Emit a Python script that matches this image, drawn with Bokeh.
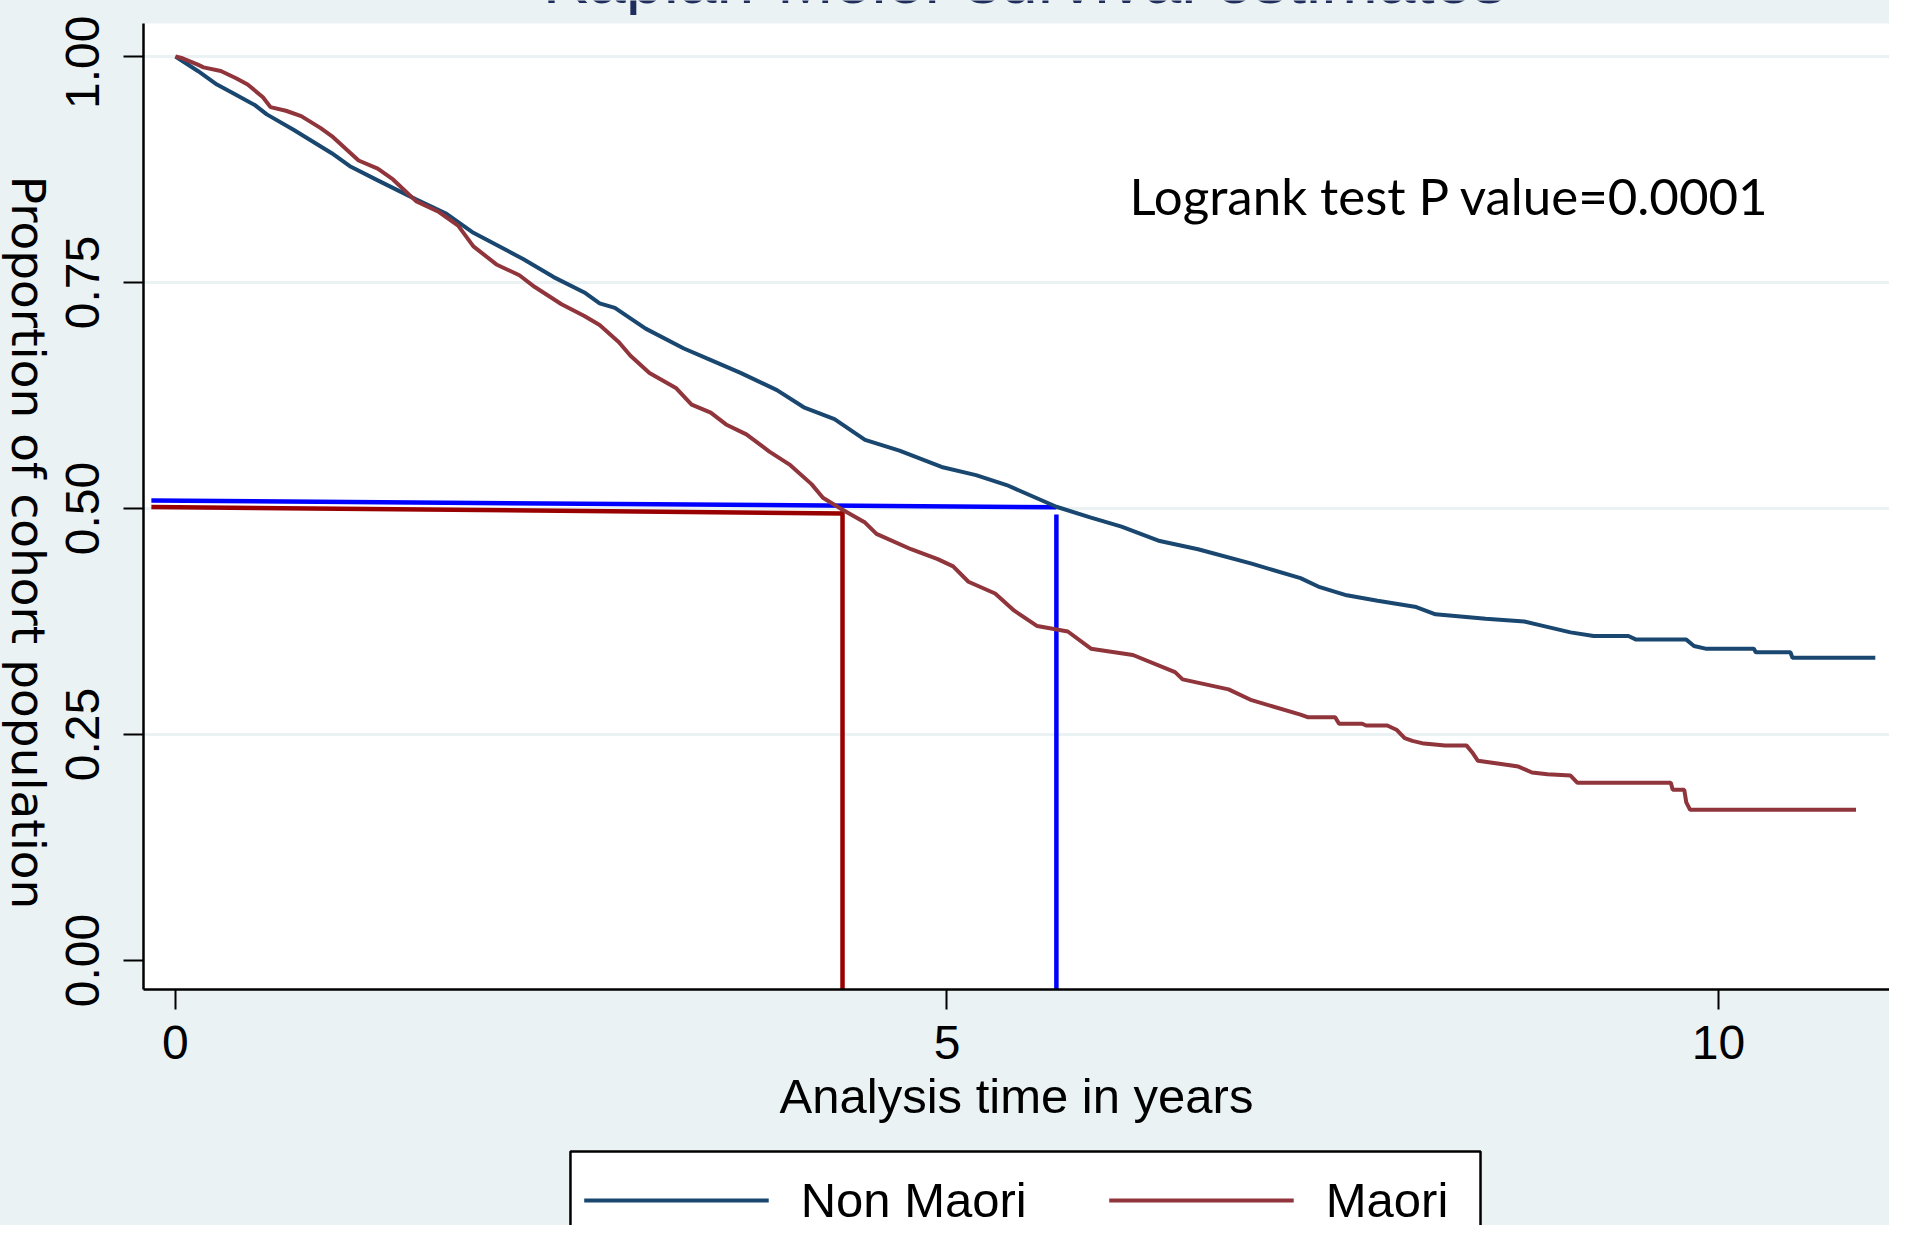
import math
from bokeh.plotting import figure
from bokeh.models import Range1d, FixedTicker, Label, Legend, LegendItem
from bokeh.layouts import column, row
from bokeh.embed import file_html
from bokeh.resources import INLINE

# ---------------- data ----------------
nonmaori_t = [0, 0.145, 0.269, 0.368, 0.517, 0.592, 0.765, 1.013, 1.137, 1.311, 1.559, 1.757,
              1.931, 2.253, 2.451, 2.650, 2.749, 2.848, 3.047, 3.295, 3.444, 3.662, 3.898, 4.072,
              4.271, 4.469, 4.692, 4.965, 5.188, 5.387, 5.709, 5.933, 6.131, 6.379, 6.627, 6.974,
              7.291, 7.416, 7.591, 7.791, 8.041, 8.166, 8.491, 8.741, 8.841, 9.041, 9.191, 9.416,
              9.466, 9.791, 9.841, 9.916, 10.229, 10.241, 10.466, 10.479, 11.016]
nonmaori_s = [1.000, 0.984, 0.969, 0.960, 0.946, 0.936, 0.919, 0.893, 0.878, 0.863, 0.842, 0.826,
              0.805, 0.776, 0.756, 0.739, 0.727, 0.722, 0.699, 0.677, 0.666, 0.650, 0.631, 0.612,
              0.599, 0.576, 0.564, 0.546, 0.537, 0.526, 0.502, 0.490, 0.480, 0.464, 0.455, 0.439,
              0.423, 0.413, 0.404, 0.398, 0.391, 0.383, 0.378, 0.375, 0.371, 0.363, 0.359, 0.359,
              0.355, 0.355, 0.348, 0.345, 0.345, 0.341, 0.341, 0.335, 0.335]

maori_t = [0, 0.046, 0.145, 0.182, 0.294, 0.393, 0.468, 0.567, 0.616, 0.716, 0.815, 0.939,
           1.013, 1.187, 1.311, 1.410, 1.559, 1.708, 1.832, 1.931, 2.080, 2.229, 2.329, 2.502,
           2.650, 2.749, 2.874, 2.949, 3.072, 3.246, 3.345, 3.469, 3.568, 3.700, 3.849, 3.985,
           4.122, 4.196, 4.320, 4.469, 4.543, 4.767, 4.940, 5.040, 5.139, 5.312, 5.436, 5.585,
           5.783, 5.933, 6.205, 6.478, 6.527, 6.825, 6.974, 7.291, 7.341, 7.516, 7.541, 7.691,
           7.716, 7.853, 7.916, 7.966, 8.016, 8.091, 8.228, 8.366, 8.403, 8.441, 8.591, 8.703,
           8.791, 8.891, 9.041, 9.086, 9.691, 9.703, 9.778, 9.791, 9.816, 10.891]
maori_s = [1.000, 0.998, 0.991, 0.988, 0.984, 0.976, 0.969, 0.955, 0.944, 0.940, 0.934, 0.921,
           0.912, 0.885, 0.876, 0.864, 0.840, 0.828, 0.813, 0.790, 0.770, 0.758, 0.745, 0.726,
           0.713, 0.703, 0.684, 0.669, 0.650, 0.633, 0.615, 0.606, 0.593, 0.582, 0.563, 0.548,
           0.527, 0.512, 0.499, 0.4845, 0.472, 0.455, 0.444, 0.436, 0.419, 0.406, 0.387, 0.370,
           0.364, 0.345, 0.338, 0.319, 0.311, 0.300, 0.288, 0.272, 0.269, 0.269, 0.262, 0.262,
           0.260, 0.260, 0.255, 0.246, 0.243, 0.240, 0.238, 0.238, 0.2305, 0.221, 0.2175, 0.2146,
           0.208, 0.206, 0.2046, 0.1966, 0.1966, 0.189, 0.189, 0.175, 0.1667, 0.1667]

# median survival guide lines (hand-drawn in the original)
nm_median_h_x = [-0.156, 5.709]
nm_median_h_y = [0.5088, 0.5014]
nm_median_v_x = [5.709, 5.709]
nm_median_v_y = [0.4934, -0.032]
m_median_h_x = [-0.156, 4.323]
m_median_h_y = [0.5017, 0.4945]
m_median_v_x = [4.323, 4.323]
m_median_v_y = [0.4970, -0.032]

x_ticks = [0, 5, 10]
x_tick_labels = ["0", "5", "10"]
y_ticks = [0, 0.25, 0.5, 0.75, 1.0]
y_tick_labels = ["0.00", "0.25", "0.50", "0.75", "1.00"]
grid_ticks = [0.25, 0.5, 0.75, 1.0]

title_text = "Kaplan-Meier survival estimates"
x_title = "Analysis time in years"
y_title = "Proportion of cohort population"
note_text = "Logrank test P value=0.0001"
series_names = ["Non Maori", "Maori"]

# ---------------- styling ----------------
BG = "#EAF2F3"
NAVY = "#1A476F"
MAROON = "#90353B"
SANS = "Liberation Sans"
TOTAL_W = 1889
TOTAL_H = 1225
SIDE_W = 56                 # strip that carries the y title
TOP_H = 15                  # strip that shows the bottom of the (cut) title
LEG_H = 76                  # strip that shows the top of the (cut) legend
W = TOTAL_W - SIDE_W
FRAME_LEFT = 143 - SIDE_W
X_RANGE = (-0.207, 11.108)

# ---------------- title strip ----------------
top = figure(width=W, height=TOP_H, output_backend="svg", toolbar_location=None,
             x_range=Range1d(*X_RANGE), y_range=Range1d(0, 1),
             x_axis_location=None, y_axis_location=None,
             min_border_left=FRAME_LEFT, min_border_right=0, min_border_top=0, min_border_bottom=0)
top.border_fill_color = BG
top.background_fill_color = BG
top.outline_line_color = None
top.xgrid.visible = False
top.ygrid.visible = False
top.add_layout(Label(x=881, y=37, x_units="screen", y_units="screen", text=title_text,
                     text_align="center", text_baseline="alphabetic",
                     text_font=SANS, text_font_size="68px", text_color="#1E2D5C"))

# ---------------- main plot ----------------
p = figure(width=W, height=1149 - TOP_H, output_backend="svg", toolbar_location=None,
           x_range=Range1d(*X_RANGE), y_range=Range1d(-0.032, 1.0365),
           min_border_left=FRAME_LEFT, min_border_right=0, min_border_top=23 - TOP_H,
           min_border_bottom=160)
p.border_fill_color = BG
p.background_fill_color = "white"
p.outline_line_color = None

p.xgrid.grid_line_color = None
p.ygrid.ticker = FixedTicker(ticks=grid_ticks)
p.ygrid.grid_line_color = BG
p.ygrid.grid_line_width = 3

for ax in (p.xaxis[0], p.yaxis[0]):
    ax.axis_line_color = "black"
    ax.axis_line_width = 2.5
    ax.major_tick_line_color = "black"
    ax.major_tick_line_width = 2
    ax.major_tick_out = 20
    ax.major_tick_in = 0
    ax.minor_tick_line_color = None
    ax.major_label_text_font = SANS
    ax.major_label_text_font_size = "48px"
    ax.major_label_text_color = "black"
    ax.axis_label_text_font_style = "normal"
    ax.axis_label_text_color = "black"

p.xaxis.ticker = FixedTicker(ticks=x_ticks)
p.xaxis.major_label_overrides = {t: l for t, l in zip(x_ticks, x_tick_labels)}
p.xaxis.major_label_standoff = 16
p.xaxis.axis_label = x_title
p.xaxis.axis_label_text_font = SANS
p.xaxis.axis_label_text_font_size = "49px"
p.xaxis.axis_label_standoff = 7

p.yaxis.ticker = FixedTicker(ticks=y_ticks)
p.yaxis.major_label_overrides = {t: l for t, l in zip(y_ticks, y_tick_labels)}
p.yaxis.major_label_orientation = "vertical"
p.yaxis.major_label_standoff = 24

# median guide lines
p.line(nm_median_h_x, nm_median_h_y, line_color="#0000FF", line_width=4.5)
p.line(nm_median_v_x, nm_median_v_y, line_color="#0000FF", line_width=4.5)
p.line(m_median_h_x, m_median_h_y, line_color="#990000", line_width=4.5)
p.line(m_median_v_x, m_median_v_y, line_color="#990000", line_width=4.5)

# survival curves
p.line(nonmaori_t, nonmaori_s, line_color=NAVY, line_width=4)
p.line(maori_t, maori_s, line_color=MAROON, line_width=4)

# note
p.add_layout(Label(x=6.183, y=0.846, text=note_text, text_font="Lato",
                   text_font_size="51px", text_color="black", text_baseline="alphabetic"))

# ---------------- legend strip (its box is cut by the bottom edge) ----------------
f2 = figure(width=W, height=LEG_H, output_backend="svg", toolbar_location=None,
            x_range=Range1d(*X_RANGE), y_range=Range1d(100, 176),
            x_axis_location=None, y_axis_location=None,
            min_border_left=FRAME_LEFT, min_border_right=0, min_border_top=0, min_border_bottom=0)
f2.border_fill_color = BG
f2.background_fill_color = BG
f2.outline_line_color = None
f2.xgrid.visible = False
f2.ygrid.visible = False

f2.quad(left=[(570 - 175) / 154.3], right=[(1480 - 175) / 154.3], top=[174], bottom=[60],
        fill_color="white", line_color="black", line_width=2.5)

# the same series (far outside this strip's view) give the legend its glyphs
l_nm = f2.line(nonmaori_t, nonmaori_s, line_color=NAVY, line_width=4)
l_m = f2.line(maori_t, maori_s, line_color=MAROON, line_width=4)
legend = Legend(items=[LegendItem(label=series_names[0], renderers=[l_nm]),
                       LegendItem(label=series_names[1], renderers=[l_m])],
                orientation="horizontal", location="top_center")
legend.border_line_color = None
legend.background_fill_alpha = 0
legend.label_text_font = SANS
legend.label_text_font_size = "49px"
legend.label_text_color = "black"
legend.glyph_width = 185
legend.glyph_height = 40
legend.label_height = 40
legend.label_standoff = 32
legend.spacing = 82
legend.padding = 21
legend.margin = 23
f2.add_layout(legend, "center")

# ---------------- side strip: y title on a right-hand axis (reads top to bottom) ----------------
side = figure(width=SIDE_W, height=TOTAL_H, output_backend="svg", toolbar_location=None,
              x_range=Range1d(0, 1), y_range=Range1d(0, 1),
              x_axis_location=None, y_axis_location="right",
              min_border_left=0, min_border_right=SIDE_W - 1, min_border_top=23,
              min_border_bottom=TOTAL_H - 1061)
side.border_fill_color = BG
side.background_fill_color = BG
side.outline_line_color = None
side.xgrid.visible = False
side.ygrid.visible = False
ya = side.yaxis[0]
ya.ticker = FixedTicker(ticks=[])
ya.axis_line_color = None
ya.major_tick_line_color = None
ya.minor_tick_line_color = None
ya.major_tick_out = 0
ya.major_tick_in = 0
ya.minor_tick_out = 0
ya.minor_tick_in = 0
ya.major_label_standoff = 0
ya.axis_label = y_title
ya.axis_label_standoff = 0
ya.axis_label_text_font = "DejaVu Sans"
ya.axis_label_text_font_size = "47px"
ya.axis_label_text_font_style = "normal"
ya.axis_label_text_color = "black"

layout = row(side, column(top, p, f2, styles={"background-color": BG}),
             styles={"background-color": BG})
open("out.html", "w").write(file_html(layout, INLINE))
